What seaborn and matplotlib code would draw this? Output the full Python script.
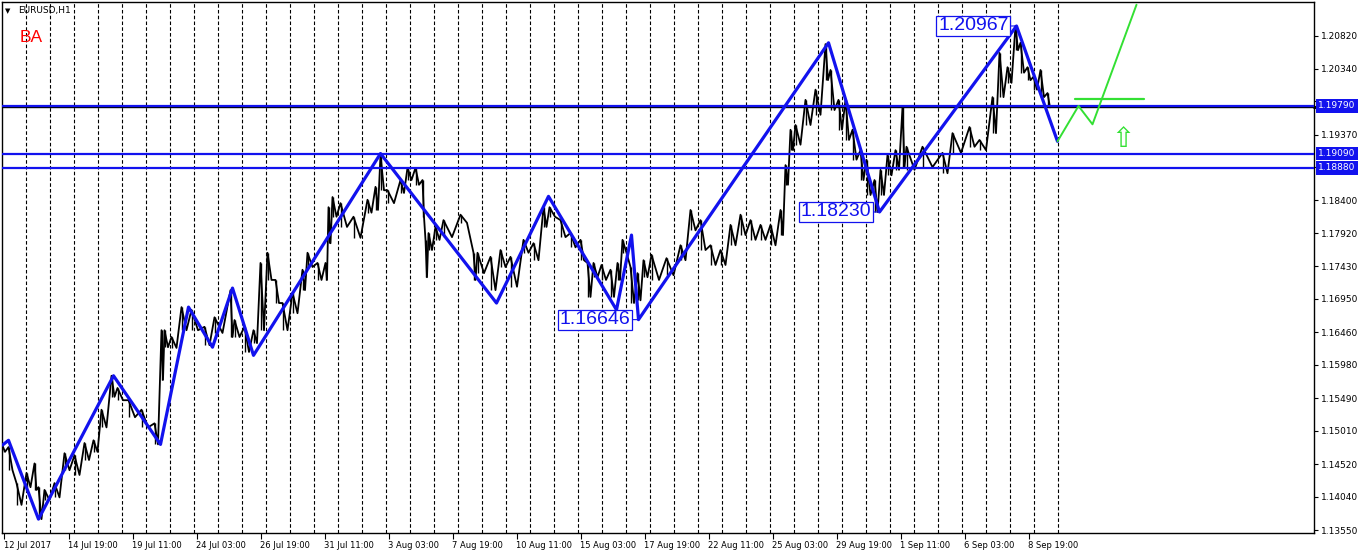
import matplotlib
matplotlib.use("Agg")
import matplotlib.pyplot as plt
import numpy as np
import pandas as pd
import seaborn as sns

# -------------------------
# Data (x = hourly bar index, 0 = 12 Jul 2017 00:00)
# -------------------------
seg_bar = [0, 7, 15, 25, 33, 37, 43, 53, 63, 73,
           83, 92, 100, 110, 116, 127, 140, 153, 160, 163,
           170, 180, 190, 203, 213, 229, 233, 243, 252, 259,
           266, 274, 281, 291, 301, 306, 316, 324, 327, 331,
           339, 352, 366, 374, 379, 386, 399, 406, 414, 421,
           424, 427, 434, 442, 459, 472, 476, 489, 499, 509,
           522, 532, 542, 548, 559, 569, 579, 586, 592, 600,
           609, 616, 621, 629, 636, 642, 650, 665, 679, 689,
           699, 709, 719, 729, 739, 749, 759, 769, 779, 784,
           789, 794, 804, 814, 824, 829, 837, 844, 851, 859,
           865, 873, 879, 886, 894, 901, 905, 921, 941, 951,
           968, 978, 991, 998, 1006, 1014, 1019, 1026, 1032, 1039,
           1046]
seg_high = [1.1483, 1.1477, 1.1424, 1.1439, 1.1453, 1.1418, 1.1414, 1.1424, 1.1468, 1.1465,
            1.1483, 1.1487, 1.1532, 1.1582, 1.1564, 1.1546, 1.1532, 1.1512, 1.1649, 1.1649,
            1.1639, 1.1683, 1.1679, 1.1654, 1.1668, 1.1708, 1.1664, 1.1654, 1.1649, 1.1748,
            1.1763, 1.1723, 1.1689, 1.1704, 1.1738, 1.1763, 1.1748, 1.1748, 1.1830, 1.1845,
            1.1836, 1.1816, 1.1841, 1.1860, 1.1907, 1.1855, 1.1870, 1.1888, 1.1888, 1.1870,
            1.1782, 1.1792, 1.1801, 1.1811, 1.1819, 1.1763, 1.1763, 1.1757, 1.1767, 1.1757,
            1.1782, 1.1777, 1.1830, 1.1830, 1.1811, 1.1792, 1.1782, 1.1748, 1.1748, 1.1745,
            1.1738, 1.1748, 1.1782, 1.1742, 1.1733, 1.1752, 1.1760, 1.1755, 1.1774, 1.1826,
            1.1811, 1.1774, 1.1767, 1.1804, 1.1819, 1.1811, 1.1804, 1.1804, 1.1826, 1.1892,
            1.1944, 1.1951, 1.1988, 1.2003, 1.2070, 1.2032, 1.1988, 1.1988, 1.1944, 1.1914,
            1.1900, 1.1870, 1.1885, 1.1907, 1.1914, 1.1977, 1.1919, 1.1919, 1.1910, 1.1939,
            1.1948, 1.1929, 1.1992, 1.2057, 1.2036, 1.2097, 1.2072, 1.2036, 1.2022, 1.2032,
            1.1998]
seg_low = [1.1470, 1.1443, 1.1392, 1.1418, 1.1414, 1.1371, 1.1399, 1.1403, 1.1443, 1.1436,
           1.1458, 1.1470, 1.1506, 1.1551, 1.1546, 1.1521, 1.1506, 1.1481, 1.1576, 1.1624,
           1.1623, 1.1649, 1.1649, 1.1627, 1.1645, 1.1639, 1.1639, 1.1617, 1.1630, 1.1649,
           1.1723, 1.1689, 1.1649, 1.1674, 1.1708, 1.1742, 1.1723, 1.1723, 1.1777, 1.1816,
           1.1801, 1.1785, 1.1822, 1.1826, 1.1855, 1.1836, 1.1851, 1.1870, 1.1863, 1.1816,
           1.1727, 1.1767, 1.1782, 1.1786, 1.1807, 1.1723, 1.1733, 1.1708, 1.1742, 1.1713,
           1.1763, 1.1752, 1.1801, 1.1816, 1.1786, 1.1771, 1.1752, 1.1698, 1.1727, 1.1723,
           1.1698, 1.1723, 1.1763, 1.1689, 1.1693, 1.1727, 1.1723, 1.1730, 1.1752, 1.1796,
           1.1767, 1.1745, 1.1745, 1.1774, 1.1789, 1.1782, 1.1782, 1.1774, 1.1789, 1.1863,
           1.1914, 1.1922, 1.1951, 1.1966, 1.2017, 1.1973, 1.1944, 1.1929, 1.1900, 1.1870,
           1.1848, 1.1823, 1.1848, 1.1877, 1.1885, 1.1889, 1.1885, 1.1889, 1.1880, 1.1910,
           1.1919, 1.1914, 1.1939, 1.1992, 1.2013, 1.2061, 1.2028, 1.2017, 1.2003, 1.1992,
           1.1977]
last_bar = 1051

# zigzag pivots
zz_bar = [1, 7, 37, 112, 159, 187, 211, 231, 252, 379, 495, 547, 615, 630, 637, 827, 878, 1015, 1056]
zz_price = [1.1480, 1.1487, 1.1371, 1.1582, 1.1481, 1.1683, 1.1624, 1.1711, 1.1612, 1.1909,
            1.1689, 1.1846, 1.1679, 1.1789, 1.16646, 1.2072, 1.18230, 1.20967, 1.1927]

# labelled pivots
note_bar = [637, 878, 1015]
note_price = [1.16646, 1.18230, 1.20967]

# green projection
proj_bar = [1056, 1077, 1091, 1135]
proj_price = [1.1927, 1.1979, 1.1952, 1.2128]
proj_level = 1.1989
proj_level_bars = [1073, 1142]
arrow_bar = 1121
arrow_price = 1.1931

# horizontal levels
levels = [1.19790, 1.19090, 1.18880]
bid_price = 1.19775

ytick_vals = [1.20820, 1.20340, 1.19860, 1.19370, 1.18890, 1.18400, 1.17920, 1.17430,
              1.16950, 1.16460, 1.15980, 1.15490, 1.15010, 1.14520, 1.14040, 1.13550]
hidden_ticks = [1.19860, 1.18890]  # covered by the level boxes
xtick_bars = [2, 67, 131, 195, 259, 323, 387, 451, 515, 579, 643, 707, 771, 835, 899, 963, 1027]
xtick_labels = ["12 Jul 2017", "14 Jul 19:00", "19 Jul 11:00", "24 Jul 03:00", "26 Jul 19:00",
                "31 Jul 11:00", "3 Aug 03:00", "7 Aug 19:00", "10 Aug 11:00", "15 Aug 03:00",
                "17 Aug 19:00", "22 Aug 11:00", "25 Aug 03:00", "29 Aug 19:00", "1 Sep 11:00",
                "6 Sep 03:00", "8 Sep 19:00"]
bars_per_day = 24

# -------------------------
# Figure
# -------------------------
W, H = 1358, 554
sns.set_theme(style="white")
plt.rcParams["font.family"] = ["DejaVu Sans"]

fig = plt.figure(figsize=(W / 100, H / 100), dpi=100)
ax = fig.add_axes([2 / W, 1 - 533 / H, 1312 / W, 531 / H])
ax.set_xlim(0.5, 1312.5)
ax.set_ylim(1.13506, 1.21320)

BLUE = "#1212ee"
GREEN = "#33e033"

# day separators
sep = list(range(bars_per_day, zz_bar[-1] + 1, bars_per_day))
ax.vlines(sep, 1.13506, 1.21320, colors="black", linestyles=(0, (3.2, 2)), lw=0.8, zorder=1)

# price as a high/low trace
seg_end = seg_bar[1:] + [last_bar]
px, py = [], []
for b0, b1, hi, lo in zip(seg_bar, seg_end, seg_high, seg_low):
    px += [b0, (b0 + b1) / 2]
    py += [hi, lo]
price_df = pd.DataFrame({"bar": px, "price": py})
sns.lineplot(data=price_df, x="bar", y="price", sort=False, estimator=None,
             color="black", lw=1.3, ax=ax, zorder=3)
ax.vlines(seg_bar, seg_low, seg_high, colors="black", lw=1.0, zorder=3)

# horizontal levels
ax.axhline(bid_price, color="black", lw=1.0, zorder=4)
ax.plot([1.0, 1.0 + 44 / 1312], [bid_price, bid_price], color="black", lw=2.2,
        transform=ax.get_yaxis_transform(), clip_on=False, zorder=4)
for lv in levels:
    ax.axhline(lv, color=BLUE, lw=1.6, zorder=5)

# zigzag
zz_df = pd.DataFrame({"bar": zz_bar, "price": zz_price})
sns.lineplot(data=zz_df, x="bar", y="price", sort=False, estimator=None,
             color=BLUE, lw=2.3, ax=ax, zorder=6)

# green projection
proj_df = pd.DataFrame({"bar": proj_bar, "price": proj_price})
sns.lineplot(data=proj_df, x="bar", y="price", sort=False, estimator=None,
             color=GREEN, lw=1.4, ax=ax, zorder=6)
ax.plot(proj_level_bars, [proj_level, proj_level], color=GREEN, lw=1.6, zorder=6)
ax.text(arrow_bar, arrow_price, "\u21e7", color=GREEN, fontsize=20, ha="center", va="center",
        zorder=7)

# pivot labels
for b, p in zip(note_bar, note_price):
    ax.annotate(f"{p:.5f}", xy=(b, p), xytext=(-8, 0), textcoords="offset pixels",
                ha="right", va="center", fontsize=14, color=BLUE, family="Liberation Sans",
                bbox=dict(boxstyle="square,pad=0.08", fc="white", ec=BLUE, lw=0.9),
                arrowprops=dict(arrowstyle="-", color=BLUE, lw=0.8, shrinkA=0, shrinkB=0),
                zorder=8)

# axes
ax.set_xlabel("")
ax.set_ylabel("")
ax.yaxis.tick_right()
ax.set_yticks(ytick_vals)
ax.set_yticklabels(["" if v in hidden_ticks else f"{v:.5f}" for v in ytick_vals])
ax.set_xticks(xtick_bars)
ax.set_xticklabels(xtick_labels)
for lab in ax.get_xticklabels():
    lab.set_horizontalalignment("left")
ax.tick_params(axis="x", direction="out", length=4, width=0.8, pad=2, labelsize=6,
               colors="black", bottom=True)
ax.tick_params(axis="y", direction="out", length=3, width=0.8, pad=2, labelsize=6.5,
               colors="black", right=True, left=False)
for s in ax.spines.values():
    s.set_color("black")
    s.set_linewidth(1.0)
ax.grid(False)

# right-axis level boxes
yt = ax.get_yaxis_transform()
for lv in levels:
    ax.text(1.0 + 4 / 1312, lv, f"{lv:.5f}", transform=yt, ha="left", va="center",
            color="white", fontsize=6.5,
            bbox=dict(boxstyle="square,pad=0.25", fc=BLUE, ec="none"), clip_on=False, zorder=10)

# header texts
fig.text(5 / W, 1 - 13 / H, "\u25bc", fontsize=5, color="black", va="baseline")
fig.text(18 / W, 1 - 13 / H, "EURUSD,H1", fontsize=6.5, color="black", va="baseline")
fig.text(20 / W, 1 - 42 / H, "BA", fontsize=12.5, color="red", family="Liberation Sans",
         va="baseline")

fig.savefig("out.png", dpi=100)
